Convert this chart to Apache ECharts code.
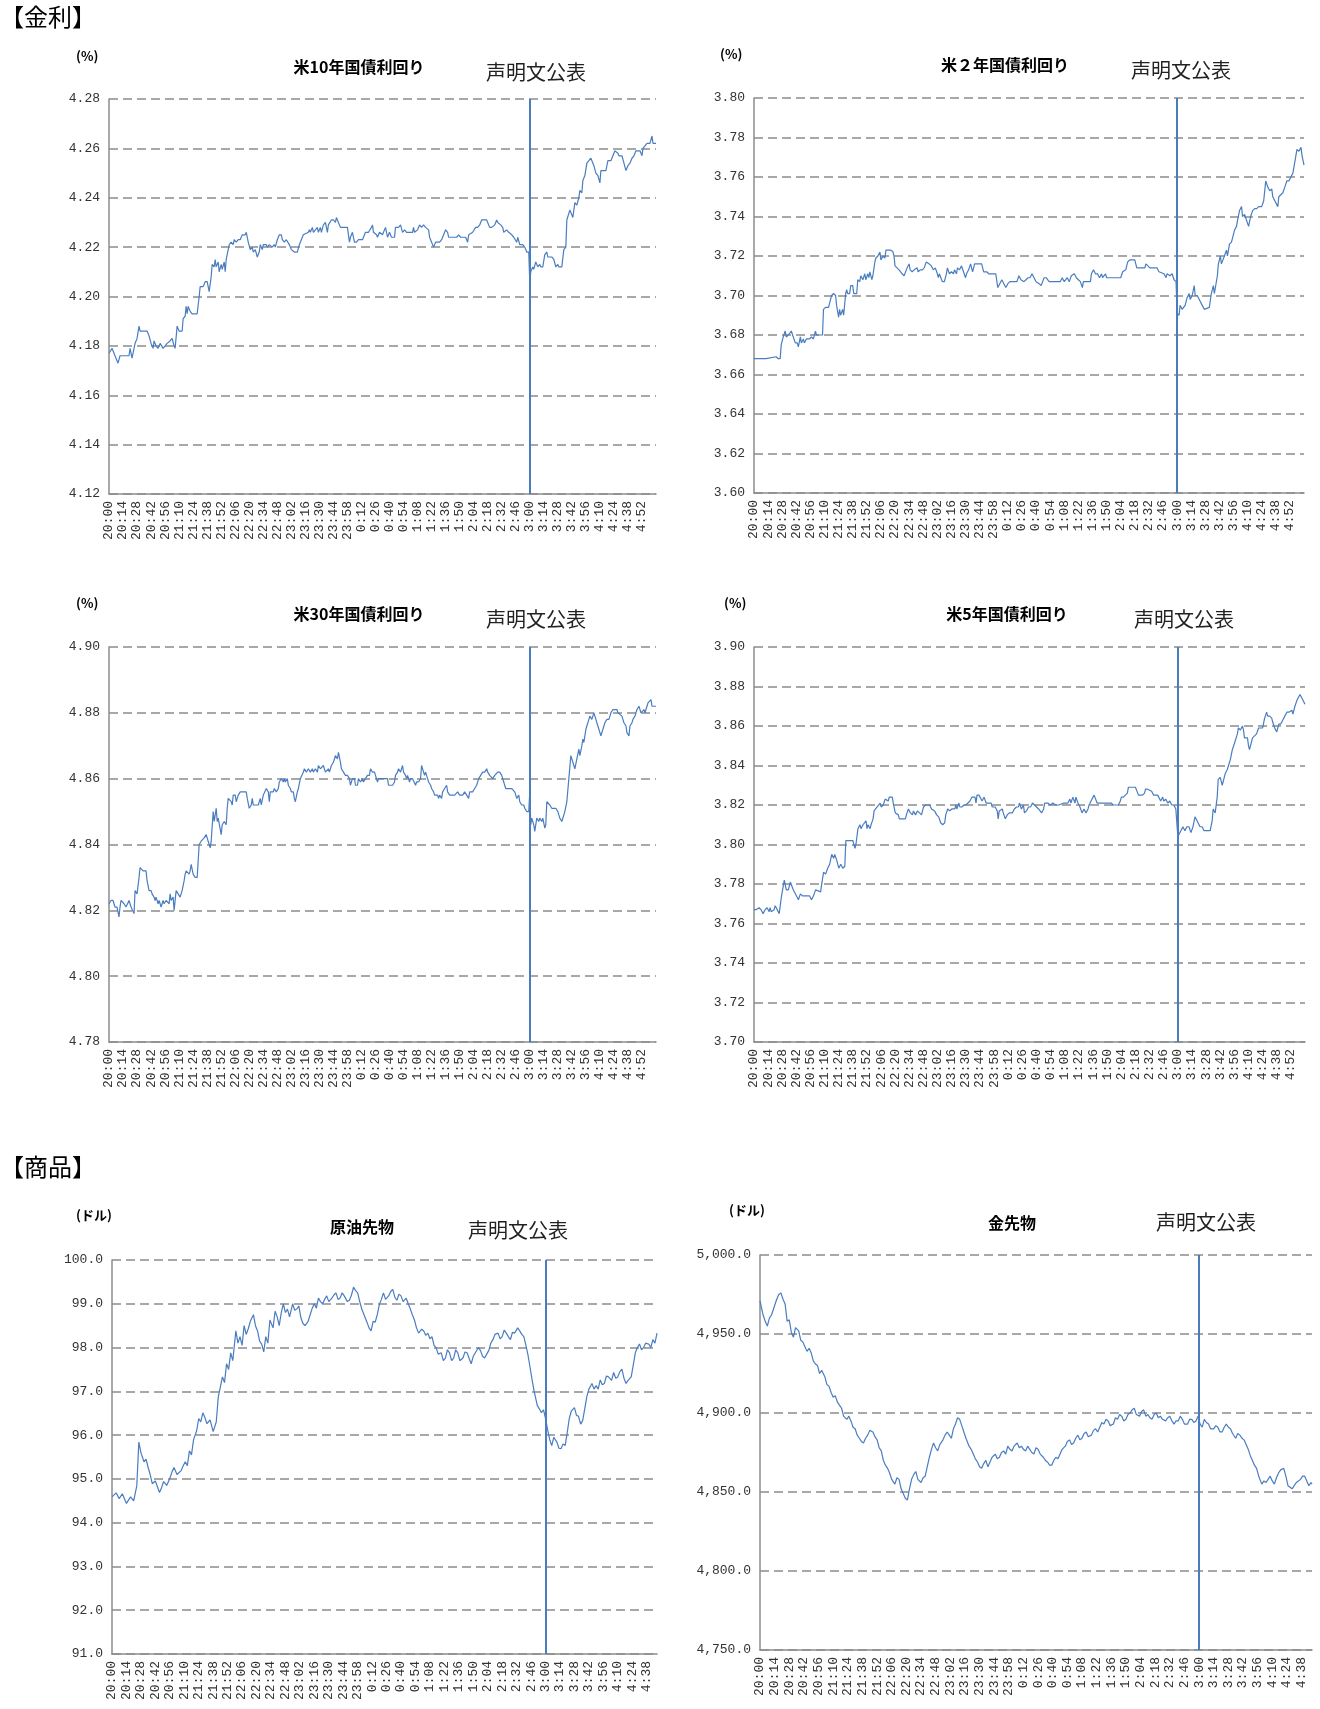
<!DOCTYPE html>
<html><head><meta charset="utf-8">
<script src="https://cdn.jsdelivr.net/npm/echarts@6/dist/echarts.min.js"></script>
<style>html,body{margin:0;padding:0;background:#fff}#c{width:1320px;height:1709px}</style>
</head><body><div id="c"></div>
<script>
// minutes after 20:00 (NY time), value
const tenY = [[0,4.177],[1,4.177],[3,4.179],[5,4.177],[7,4.175],[9,4.173],[11,4.176],[20,4.176],[21,4.179],[23,4.175],[24,4.175],[26,4.181],[28,4.183],[30,4.188],[31,4.186],[38,4.186],[40,4.184],[42,4.181],[44,4.179],[45,4.182],[47,4.180],[49,4.179],[51,4.181],[54,4.179],[56,4.180],[58,4.181],[59,4.181],[61,4.182],[63,4.183],[65,4.180],[66,4.179],[68,4.188],[70,4.186],[73,4.186],[74,4.191],[76,4.192],[77,4.196],[78,4.193],[79,4.196],[81,4.194],[83,4.193],[88,4.193],[90,4.200],[91,4.204],[94,4.204],[96,4.206],[98,4.206],[99,4.204],[100,4.202],[102,4.208],[103,4.213],[105,4.212],[106,4.215],[107,4.212],[109,4.214],[110,4.210],[112,4.213],[113,4.211],[115,4.214],[116,4.210],[117,4.215],[119,4.219],[120,4.221],[122,4.222],[124,4.221],[125,4.223],[127,4.222],[129,4.223],[131,4.223],[133,4.225],[136,4.225],[137,4.226],[139,4.222],[141,4.219],[143,4.220],[144,4.218],[146,4.219],[148,4.216],[150,4.218],[151,4.221],[153,4.219],[154,4.221],[157,4.221],[158,4.220],[160,4.221],[163,4.220],[165,4.221],[166,4.220],[168,4.223],[170,4.225],[172,4.225],[173,4.223],[175,4.222],[177,4.223],[180,4.221],[182,4.219],[185,4.218],[188,4.218],[190,4.221],[192,4.223],[194,4.225],[199,4.226],[200,4.227],[201,4.226],[203,4.228],[204,4.226],[206,4.227],[208,4.228],[209,4.226],[211,4.228],[212,4.226],[214,4.229],[216,4.230],[218,4.226],[219,4.229],[222,4.231],[224,4.231],[226,4.230],[227,4.232],[229,4.230],[231,4.228],[238,4.228],[240,4.222],[241,4.224],[243,4.226],[245,4.222],[247,4.222],[249,4.223],[253,4.223],[256,4.226],[259,4.226],[262,4.228],[263,4.229],[264,4.226],[267,4.225],[268,4.224],[270,4.226],[273,4.225],[276,4.228],[278,4.224],[280,4.226],[282,4.224],[285,4.224],[286,4.228],[289,4.228],[291,4.229],[293,4.226],[295,4.227],[297,4.226],[303,4.226],[304,4.228],[305,4.226],[308,4.227],[310,4.229],[312,4.228],[314,4.229],[316,4.228],[319,4.227],[320,4.224],[322,4.222],[324,4.220],[326,4.222],[330,4.222],[332,4.223],[334,4.225],[336,4.227],[338,4.226],[339,4.224],[347,4.224],[349,4.225],[351,4.224],[356,4.224],[358,4.222],[359,4.225],[363,4.226],[366,4.228],[368,4.228],[370,4.229],[372,4.231],[377,4.231],[378,4.230],[380,4.228],[382,4.228],[385,4.229],[387,4.231],[388,4.230],[391,4.229],[393,4.228],[394,4.226],[397,4.227],[399,4.226],[402,4.225],[404,4.224],[407,4.222],[408,4.224],[410,4.221],[413,4.221],[415,4.220],[417,4.218],[419,4.218],[420,4.206],[421,4.210],[423,4.212],[424,4.211],[426,4.214],[428,4.212],[430,4.213],[431,4.212],[433,4.212],[435,4.217],[437,4.218],[438,4.216],[440,4.216],[442,4.216],[444,4.215],[446,4.212],[448,4.213],[449,4.212],[452,4.212],[454,4.219],[456,4.220],[457,4.231],[460,4.235],[462,4.233],[463,4.232],[465,4.238],[467,4.237],[469,4.240],[470,4.243],[472,4.242],[473,4.247],[475,4.249],[477,4.254],[479,4.255],[481,4.256],[482,4.256],[484,4.253],[486,4.250],[488,4.249],[490,4.246],[491,4.251],[496,4.251],[498,4.255],[501,4.255],[503,4.257],[505,4.259],[508,4.258],[509,4.257],[512,4.257],[514,4.254],[516,4.251],[518,4.253],[520,4.254],[522,4.256],[524,4.257],[526,4.259],[530,4.259],[532,4.257],[533,4.260],[535,4.261],[537,4.262],[540,4.262],[542,4.265],[543,4.262],[546,4.262]];

const twoY = [[0,3.668],[4,3.668],[5,3.669],[7,3.668],[12,3.668],[13,3.669],[22,3.669],[24,3.668],[26,3.668],[27,3.675],[29,3.679],[31,3.682],[32,3.679],[34,3.680],[35,3.679],[37,3.682],[38,3.681],[39,3.679],[41,3.676],[43,3.676],[44,3.674],[46,3.679],[47,3.676],[49,3.678],[50,3.676],[52,3.678],[55,3.678],[57,3.679],[59,3.678],[61,3.682],[62,3.680],[64,3.680],[68,3.680],[69,3.693],[71,3.694],[74,3.694],[75,3.696],[77,3.700],[79,3.701],[81,3.700],[82,3.695],[84,3.689],[85,3.693],[86,3.690],[88,3.693],[89,3.690],[91,3.701],[92,3.703],[93,3.701],[95,3.701],[96,3.705],[98,3.705],[99,3.701],[102,3.701],[103,3.708],[105,3.707],[106,3.710],[108,3.708],[110,3.711],[111,3.708],[113,3.711],[114,3.709],[115,3.712],[117,3.708],[118,3.710],[120,3.717],[121,3.719],[123,3.720],[125,3.722],[126,3.718],[128,3.720],[130,3.719],[131,3.723],[136,3.723],[138,3.722],[139,3.720],[140,3.715],[142,3.714],[144,3.713],[145,3.712],[147,3.711],[149,3.710],[150,3.711],[152,3.714],[154,3.716],[155,3.713],[157,3.712],[159,3.713],[160,3.712],[162,3.714],[163,3.712],[165,3.713],[167,3.713],[169,3.714],[171,3.717],[172,3.718],[174,3.716],[176,3.715],[178,3.713],[180,3.714],[182,3.711],[183,3.709],[184,3.711],[187,3.707],[189,3.707],[191,3.711],[192,3.714],[194,3.711],[196,3.712],[198,3.711],[199,3.713],[201,3.711],[202,3.714],[204,3.713],[206,3.715],[208,3.712],[210,3.709],[211,3.711],[213,3.713],[215,3.716],[217,3.712],[219,3.716],[226,3.716],[228,3.712],[229,3.713],[231,3.712],[233,3.711],[240,3.711],[242,3.704],[244,3.706],[246,3.708],[248,3.706],[250,3.704],[252,3.706],[254,3.707],[261,3.707],[263,3.710],[264,3.711],[265,3.708],[268,3.707],[270,3.708],[272,3.709],[274,3.709],[276,3.711],[278,3.709],[280,3.707],[283,3.706],[285,3.705],[286,3.706],[288,3.709],[290,3.709],[293,3.707],[304,3.707],[306,3.709],[308,3.707],[311,3.709],[313,3.707],[315,3.710],[318,3.711],[320,3.709],[322,3.708],[324,3.707],[326,3.704],[327,3.707],[334,3.707],[335,3.711],[337,3.713],[339,3.711],[341,3.711],[343,3.709],[345,3.711],[346,3.709],[349,3.711],[350,3.709],[361,3.709],[364,3.709],[366,3.712],[369,3.713],[371,3.717],[373,3.718],[378,3.718],[380,3.714],[388,3.714],[389,3.716],[391,3.715],[393,3.714],[400,3.714],[402,3.712],[407,3.711],[409,3.709],[410,3.711],[413,3.710],[415,3.711],[417,3.708],[419,3.707],[420,3.691],[422,3.690],[423,3.695],[425,3.693],[428,3.695],[430,3.699],[432,3.701],[433,3.698],[435,3.700],[437,3.705],[438,3.700],[440,3.700],[442,3.698],[445,3.695],[447,3.693],[448,3.694],[452,3.694],[454,3.701],[456,3.705],[457,3.701],[460,3.710],[461,3.716],[463,3.720],[464,3.716],[467,3.720],[469,3.723],[470,3.720],[472,3.726],[474,3.727],[477,3.733],[479,3.735],[480,3.738],[482,3.743],[484,3.745],[485,3.740],[487,3.741],[489,3.738],[491,3.735],[493,3.740],[495,3.743],[497,3.744],[499,3.744],[501,3.745],[504,3.745],[506,3.748],[508,3.758],[510,3.755],[512,3.753],[514,3.754],[515,3.750],[517,3.748],[520,3.745],[521,3.750],[523,3.751],[525,3.752],[527,3.755],[529,3.758],[531,3.758],[533,3.760],[535,3.762],[536,3.762],[538,3.771],[539,3.774],[541,3.773],[543,3.775],[544,3.771],[546,3.766]];

const thirtyY = [[0,4.822],[2,4.823],[4,4.823],[6,4.821],[8,4.821],[10,4.818],[11,4.821],[12,4.823],[15,4.822],[17,4.821],[18,4.821],[20,4.823],[21,4.822],[22,4.821],[25,4.819],[26,4.826],[28,4.825],[30,4.830],[31,4.833],[34,4.832],[37,4.832],[38,4.829],[40,4.826],[42,4.826],[43,4.825],[45,4.824],[46,4.823],[47,4.824],[49,4.822],[50,4.823],[52,4.821],[54,4.823],[55,4.822],[57,4.823],[60,4.822],[61,4.825],[62,4.823],[64,4.824],[65,4.820],[67,4.826],[69,4.825],[71,4.824],[73,4.826],[75,4.829],[76,4.831],[77,4.832],[80,4.831],[81,4.832],[82,4.834],[84,4.831],[86,4.830],[88,4.830],[90,4.840],[92,4.841],[95,4.842],[97,4.843],[99,4.841],[101,4.839],[102,4.841],[104,4.850],[105,4.847],[107,4.851],[108,4.847],[109,4.848],[112,4.843],[113,4.846],[115,4.847],[117,4.846],[118,4.851],[119,4.854],[122,4.853],[123,4.852],[124,4.855],[126,4.855],[127,4.853],[129,4.855],[131,4.856],[133,4.856],[137,4.856],[138,4.854],[140,4.851],[142,4.852],[143,4.854],[144,4.852],[147,4.852],[149,4.852],[151,4.854],[152,4.852],[154,4.855],[155,4.855],[157,4.857],[159,4.856],[160,4.853],[161,4.856],[164,4.856],[165,4.857],[167,4.856],[169,4.857],[170,4.859],[172,4.860],[174,4.859],[175,4.860],[176,4.859],[178,4.860],[179,4.858],[181,4.857],[182,4.856],[184,4.856],[185,4.854],[186,4.853],[188,4.856],[189,4.857],[191,4.860],[192,4.860],[194,4.862],[195,4.863],[197,4.862],[199,4.863],[201,4.862],[203,4.863],[204,4.862],[206,4.863],[208,4.862],[209,4.864],[211,4.863],[212,4.863],[214,4.864],[216,4.862],[217,4.862],[219,4.863],[220,4.862],[222,4.864],[224,4.865],[225,4.865],[226,4.867],[228,4.866],[229,4.868],[231,4.865],[232,4.863],[234,4.862],[236,4.861],[238,4.861],[240,4.860],[241,4.858],[243,4.860],[245,4.860],[246,4.858],[248,4.858],[249,4.860],[251,4.859],[253,4.860],[254,4.859],[256,4.860],[258,4.861],[260,4.861],[261,4.863],[263,4.862],[265,4.862],[266,4.861],[268,4.859],[269,4.860],[272,4.860],[274,4.860],[276,4.860],[278,4.860],[279,4.858],[283,4.858],[285,4.859],[286,4.861],[288,4.862],[289,4.863],[291,4.862],[293,4.864],[294,4.862],[296,4.861],[297,4.860],[298,4.861],[300,4.859],[301,4.860],[303,4.860],[304,4.860],[306,4.858],[307,4.859],[309,4.859],[311,4.860],[312,4.864],[313,4.864],[315,4.861],[316,4.862],[318,4.860],[319,4.859],[321,4.858],[322,4.857],[324,4.856],[325,4.855],[328,4.855],[329,4.854],[330,4.855],[332,4.854],[333,4.856],[335,4.857],[337,4.858],[338,4.856],[340,4.855],[342,4.855],[343,4.855],[345,4.855],[348,4.856],[350,4.855],[351,4.855],[353,4.855],[355,4.856],[357,4.855],[359,4.854],[360,4.856],[363,4.856],[365,4.857],[367,4.858],[369,4.860],[371,4.861],[373,4.862],[375,4.862],[377,4.863],[378,4.862],[380,4.861],[381,4.861],[383,4.860],[385,4.861],[386,4.861],[388,4.862],[390,4.862],[392,4.861],[393,4.860],[395,4.858],[396,4.857],[399,4.857],[402,4.857],[405,4.856],[407,4.854],[409,4.855],[410,4.853],[412,4.852],[414,4.852],[415,4.851],[417,4.850],[419,4.850],[420,4.856],[421,4.846],[422,4.848],[424,4.846],[425,4.844],[427,4.848],[429,4.847],[430,4.848],[432,4.847],[433,4.848],[435,4.845],[436,4.846],[437,4.853],[440,4.852],[442,4.851],[444,4.851],[446,4.851],[448,4.850],[450,4.848],[452,4.847],[453,4.847],[455,4.850],[457,4.853],[459,4.860],[461,4.867],[462,4.866],[464,4.864],[465,4.863],[467,4.866],[469,4.869],[470,4.867],[472,4.870],[473,4.872],[474,4.871],[476,4.875],[477,4.876],[479,4.878],[480,4.879],[482,4.878],[484,4.880],[485,4.879],[487,4.877],[489,4.875],[491,4.873],[493,4.875],[495,4.877],[497,4.878],[499,4.878],[501,4.880],[503,4.881],[504,4.881],[507,4.881],[508,4.880],[509,4.880],[512,4.879],[513,4.878],[514,4.877],[516,4.876],[517,4.874],[519,4.873],[520,4.876],[522,4.877],[523,4.878],[525,4.879],[527,4.881],[529,4.882],[531,4.880],[532,4.880],[534,4.881],[535,4.880],[537,4.882],[538,4.883],[539,4.883],[541,4.884],[542,4.882],[544,4.882],[546,4.882]];

const fiveY = [[0,3.767],[2,3.767],[5,3.768],[7,3.767],[9,3.765],[11,3.767],[13,3.768],[15,3.766],[16,3.768],[17,3.766],[20,3.767],[21,3.769],[22,3.768],[25,3.765],[27,3.773],[28,3.776],[30,3.782],[32,3.777],[34,3.777],[36,3.781],[37,3.780],[39,3.777],[42,3.774],[44,3.772],[46,3.775],[48,3.774],[52,3.774],[55,3.774],[57,3.772],[59,3.774],[61,3.777],[62,3.776],[66,3.776],[68,3.783],[69,3.786],[71,3.785],[73,3.788],[75,3.790],[77,3.795],[79,3.793],[80,3.795],[82,3.792],[84,3.788],[86,3.790],[88,3.788],[90,3.789],[91,3.802],[94,3.802],[98,3.802],[100,3.798],[101,3.800],[103,3.808],[105,3.810],[106,3.808],[108,3.810],[109,3.810],[111,3.812],[112,3.808],[113,3.810],[115,3.808],[116,3.810],[118,3.813],[119,3.817],[120,3.816],[122,3.819],[123,3.819],[125,3.821],[126,3.819],[128,3.820],[129,3.821],[130,3.823],[133,3.822],[134,3.824],[135,3.825],[137,3.824],[138,3.821],[140,3.816],[143,3.815],[144,3.813],[150,3.813],[151,3.815],[153,3.818],[155,3.816],[157,3.815],[158,3.817],[160,3.815],[162,3.817],[164,3.816],[166,3.815],[168,3.819],[170,3.820],[174,3.820],[176,3.818],[177,3.817],[179,3.817],[181,3.815],[183,3.814],[185,3.811],[187,3.810],[189,3.811],[190,3.815],[192,3.818],[194,3.817],[196,3.818],[197,3.819],[199,3.818],[200,3.820],[201,3.818],[203,3.821],[204,3.819],[206,3.819],[208,3.820],[210,3.820],[212,3.821],[214,3.822],[216,3.824],[219,3.824],[220,3.821],[221,3.825],[223,3.825],[224,3.824],[226,3.822],[228,3.824],[230,3.821],[231,3.821],[233,3.821],[235,3.821],[236,3.819],[239,3.819],[241,3.817],[242,3.813],[243,3.817],[246,3.818],[247,3.816],[249,3.813],[251,3.815],[253,3.816],[256,3.816],[258,3.818],[260,3.819],[262,3.819],[263,3.821],[265,3.818],[267,3.820],[268,3.816],[270,3.817],[272,3.819],[274,3.819],[276,3.821],[278,3.820],[280,3.819],[282,3.818],[283,3.817],[285,3.816],[287,3.818],[288,3.821],[291,3.821],[294,3.820],[296,3.821],[299,3.820],[302,3.820],[307,3.821],[311,3.821],[313,3.823],[314,3.821],[316,3.824],[318,3.821],[319,3.824],[321,3.821],[323,3.819],[325,3.816],[327,3.818],[329,3.816],[331,3.818],[332,3.820],[334,3.822],[337,3.825],[338,3.824],[340,3.821],[343,3.821],[350,3.821],[354,3.821],[356,3.820],[361,3.820],[363,3.822],[364,3.824],[366,3.824],[368,3.825],[370,3.826],[371,3.829],[378,3.829],[381,3.825],[385,3.825],[387,3.826],[388,3.828],[390,3.828],[391,3.827],[394,3.827],[396,3.825],[400,3.825],[401,3.824],[403,3.822],[405,3.824],[406,3.822],[408,3.823],[410,3.821],[412,3.822],[414,3.820],[416,3.820],[418,3.818],[419,3.819],[420,3.804],[423,3.807],[425,3.809],[427,3.807],[429,3.809],[431,3.809],[433,3.806],[435,3.809],[437,3.814],[439,3.812],[440,3.812],[442,3.809],[444,3.809],[446,3.807],[448,3.807],[452,3.807],[454,3.812],[455,3.818],[457,3.816],[459,3.824],[460,3.833],[462,3.834],[464,3.830],[465,3.829],[467,3.836],[469,3.838],[470,3.837],[472,3.843],[473,3.843],[474,3.848],[476,3.851],[477,3.852],[479,3.856],[480,3.859],[482,3.858],[484,3.860],[485,3.858],[486,3.854],[489,3.854],[490,3.850],[491,3.848],[493,3.852],[494,3.854],[496,3.855],[498,3.856],[500,3.859],[502,3.859],[504,3.859],[506,3.864],[508,3.867],[509,3.865],[511,3.865],[513,3.864],[514,3.862],[516,3.859],[518,3.857],[520,3.861],[522,3.861],[524,3.863],[526,3.865],[528,3.867],[530,3.867],[531,3.866],[533,3.868],[534,3.866],[536,3.870],[538,3.873],[539,3.873],[541,3.876],[543,3.874],[544,3.874],[546,3.871]];

const crude = [[0,94.59],[4,94.68],[7,94.55],[10,94.66],[14,94.44],[18,94.59],[21,94.50],[24,94.84],[26,95.84],[28,95.60],[31,95.39],[33,95.45],[35,95.26],[37,95.10],[39,94.89],[42,94.95],[46,94.69],[48,94.80],[50,94.94],[53,94.85],[56,95.01],[58,95.15],[60,95.26],[63,95.10],[67,95.19],[69,95.30],[71,95.39],[73,95.30],[75,95.64],[77,95.55],[79,95.89],[82,96.10],[84,96.38],[86,96.30],[88,96.51],[90,96.40],[92,96.26],[95,96.35],[98,96.08],[101,96.30],[103,96.88],[105,97.10],[107,97.33],[109,97.20],[111,97.63],[113,97.50],[115,97.88],[117,97.70],[120,98.38],[122,98.10],[124,98.25],[126,98.05],[128,98.50],[130,98.30],[132,98.43],[134,98.60],[137,98.75],[139,98.50],[141,98.38],[143,98.15],[145,98.08],[147,97.90],[149,98.25],[151,98.10],[153,98.63],[156,98.45],[158,98.83],[160,98.70],[162,98.50],[164,98.80],[166,99.00],[168,98.80],[170,98.88],[172,98.70],[175,99.00],[177,98.85],[179,98.88],[181,98.95],[183,98.68],[185,98.55],[187,98.50],[190,98.60],[192,98.75],[194,98.90],[196,99.00],[198,98.90],[200,99.13],[202,99.05],[204,99.00],[206,99.10],[208,99.18],[210,99.05],[213,99.13],[215,99.20],[217,99.25],[219,99.10],[221,99.13],[223,99.25],[225,99.18],[228,99.05],[230,99.08],[232,99.20],[234,99.38],[236,99.30],[238,99.25],[240,99.05],[242,98.88],[245,98.70],[247,98.58],[249,98.45],[251,98.38],[253,98.60],[255,98.58],[257,98.75],[259,98.98],[261,99.10],[263,99.25],[265,99.10],[268,99.18],[270,99.28],[272,99.33],[274,99.15],[276,99.08],[278,99.22],[280,99.18],[282,99.05],[285,99.13],[287,99.00],[289,98.88],[291,98.75],[293,98.63],[295,98.45],[297,98.33],[300,98.42],[302,98.38],[304,98.28],[306,98.33],[308,98.20],[310,98.25],[312,98.05],[314,98.00],[316,97.85],[319,97.88],[321,97.70],[323,97.76],[325,97.95],[327,97.88],[329,97.70],[331,97.76],[333,97.95],[335,97.88],[337,97.70],[340,97.76],[342,97.90],[344,97.88],[346,97.75],[348,97.63],[350,97.80],[352,97.88],[355,98.00],[357,97.93],[359,97.80],[361,97.76],[363,97.85],[365,97.93],[367,98.10],[369,98.18],[371,98.30],[374,98.33],[376,98.20],[378,98.25],[380,98.40],[382,98.33],[384,98.25],[386,98.18],[388,98.35],[390,98.33],[393,98.45],[395,98.38],[397,98.30],[399,98.25],[401,98.05],[403,97.83],[405,97.55],[407,97.26],[409,97.00],[412,96.68],[414,96.60],[416,96.51],[418,96.58],[420,96.38],[422,96.13],[424,95.90],[426,95.76],[428,95.95],[431,95.84],[433,95.70],[435,95.69],[437,95.80],[439,95.76],[441,96.05],[443,96.38],[445,96.55],[448,96.63],[450,96.45],[452,96.43],[454,96.25],[456,96.33],[458,96.60],[460,96.88],[462,97.05],[465,97.18],[467,97.05],[469,97.13],[471,97.05],[473,97.26],[475,97.15],[477,97.18],[479,97.35],[481,97.33],[484,97.25],[486,97.43],[488,97.30],[490,97.33],[492,97.45],[494,97.51],[496,97.30],[498,97.18],[500,97.25],[503,97.33],[505,97.60],[507,97.88],[509,98.00],[511,98.08],[513,97.95],[515,98.00],[517,98.10],[520,98.08],[522,98.00],[524,98.18],[526,98.10],[528,98.33]];

const gold = [[0,4971],[3,4962],[5,4958],[7,4955],[9,4960],[11,4962],[14,4968],[16,4972],[18,4975],[20,4976],[22,4972],[24,4969],[26,4958],[28,4959],[30,4951],[32,4948],[34,4954],[37,4952],[39,4946],[41,4945],[43,4942],[45,4939],[47,4941],[49,4938],[51,4933],[53,4931],[55,4930],[57,4925],[59,4927],[62,4923],[64,4918],[66,4917],[68,4913],[70,4910],[72,4911],[74,4907],[76,4905],[78,4903],[80,4898],[83,4896],[85,4898],[87,4895],[89,4891],[91,4890],[93,4886],[95,4884],[97,4882],[99,4881],[101,4884],[103,4886],[105,4889],[108,4888],[110,4885],[112,4883],[114,4878],[116,4876],[118,4870],[120,4867],[122,4865],[124,4862],[126,4858],[129,4855],[131,4859],[133,4858],[135,4852],[137,4849],[139,4846],[141,4845],[143,4852],[145,4858],[147,4861],[149,4863],[151,4858],[154,4856],[156,4859],[158,4860],[160,4866],[162,4872],[164,4877],[166,4881],[168,4878],[170,4876],[172,4880],[175,4883],[177,4886],[179,4888],[181,4886],[183,4884],[185,4890],[187,4893],[189,4897],[191,4896],[193,4892],[195,4888],[197,4884],[200,4879],[202,4877],[204,4874],[206,4871],[208,4869],[210,4866],[212,4865],[214,4868],[216,4870],[218,4866],[220,4869],[222,4872],[225,4874],[227,4871],[229,4872],[231,4875],[233,4876],[235,4874],[237,4879],[239,4877],[241,4876],[243,4879],[246,4881],[248,4878],[250,4879],[252,4877],[254,4876],[256,4879],[258,4877],[260,4875],[262,4874],[264,4878],[266,4877],[268,4874],[271,4872],[273,4870],[275,4869],[277,4867],[279,4867],[281,4870],[283,4872],[285,4871],[287,4874],[289,4877],[292,4879],[294,4882],[296,4883],[298,4880],[300,4881],[302,4884],[304,4886],[306,4883],[308,4884],[310,4887],[312,4888],[314,4885],[317,4886],[319,4889],[321,4890],[323,4888],[325,4891],[327,4894],[329,4893],[331,4896],[333,4895],[335,4892],[338,4893],[340,4897],[342,4896],[344,4899],[346,4898],[348,4895],[350,4896],[352,4899],[354,4900],[356,4902],[358,4903],[360,4899],[363,4898],[365,4901],[367,4902],[369,4898],[371,4899],[373,4897],[375,4896],[377,4899],[379,4900],[381,4897],[383,4898],[385,4896],[388,4895],[390,4897],[392,4898],[394,4895],[396,4893],[398,4895],[400,4895],[402,4898],[404,4896],[406,4893],[409,4893],[411,4896],[413,4896],[415,4894],[417,4895],[419,4898],[421,4893],[423,4891],[425,4896],[427,4894],[429,4893],[431,4890],[434,4890],[436,4892],[438,4891],[440,4888],[442,4888],[444,4891],[446,4893],[448,4891],[450,4890],[452,4887],[455,4884],[457,4887],[459,4886],[461,4884],[463,4883],[465,4880],[467,4877],[469,4873],[471,4870],[473,4867],[475,4865],[477,4860],[480,4855],[482,4857],[484,4856],[486,4858],[488,4860],[490,4857],[492,4855],[494,4859],[496,4862],[498,4864],[501,4865],[503,4860],[505,4854],[507,4853],[509,4852],[511,4854],[513,4856],[515,4857],[517,4858],[519,4860],[521,4860],[523,4857],[525,4854],[527,4856],[528,4855]];

const eventMinute = 420;      // 3:00 声明文公表
const labelStepMinutes = 14;
const startHour = 20;

const LINE = '#4A7DC0';
const GRIDC = '#8C8C8C';
const TICKFONT = '"Liberation Mono", monospace';
const JP = '"Noto Sans CJK JP", sans-serif';

function timeLabel(v) {
  const t = startHour * 60 + Math.round(v);
  const h = Math.floor(t / 60) % 24;
  const m = t % 60;
  return h + ':' + (m < 10 ? '0' : '') + m;
}
function commaFmt(v) {
  const s = v.toFixed(1).split('.');
  return s[0].replace(/\B(?=(\d{3})+(?!\d))/g, ',') + '.' + s[1];
}

const panels = [
  {data: tenY, title: '米10年国債利回り', unit: '(%)', ymin: 4.12, ymax: 4.28, yint: 0.02, xmax: 546, fmt: v => v.toFixed(2),
   grid: {left: 109, top: 99, width: 547, height: 395}, titleXY: [359, 59], noteXY: [536, 62], unitXY: [76, 50]},
  {data: twoY, title: '米２年国債利回り', unit: '(%)', ymin: 3.60, ymax: 3.80, yint: 0.02, xmax: 546, fmt: v => v.toFixed(2),
   grid: {left: 754, top: 98, width: 550, height: 395}, titleXY: [1005, 57], noteXY: [1181, 60], unitXY: [720, 48]},
  {data: thirtyY, title: '米30年国債利回り', unit: '(%)', ymin: 4.78, ymax: 4.90, yint: 0.02, xmax: 546, fmt: v => v.toFixed(2),
   grid: {left: 109, top: 647, width: 547, height: 395}, titleXY: [359, 606], noteXY: [536, 609], unitXY: [76, 597]},
  {data: fiveY, title: '米5年国債利回り', unit: '(%)', ymin: 3.70, ymax: 3.90, yint: 0.02, xmax: 546, fmt: v => v.toFixed(2),
   grid: {left: 754, top: 647, width: 551, height: 395}, titleXY: [1007, 606], noteXY: [1184, 609], unitXY: [724, 597]},
  {data: crude, title: '原油先物', unit: '(ドル)', ymin: 91, ymax: 100, yint: 1, xmax: 528, fmt: v => v.toFixed(1),
   grid: {left: 112, top: 1260, width: 545, height: 394}, titleXY: [362, 1219], noteXY: [518, 1220], unitXY: [76, 1209]},
  {data: gold, title: '金先物', unit: '(ドル)', ymin: 4750, ymax: 5000, yint: 50, xmax: 528, fmt: commaFmt,
   grid: {left: 760, top: 1255, width: 552, height: 395}, titleXY: [1012, 1215], noteXY: [1206, 1212], unitXY: [729, 1204]}
];

const grids = [], xAxes = [], yAxes = [], series = [], graphics = [];

graphics.push({type: 'text', x: 0, y: 5, style: {text: '【金利】', fontFamily: JP, fontSize: 24, fill: '#000'}});
graphics.push({type: 'text', x: 0, y: 1155, style: {text: '【商品】', fontFamily: JP, fontSize: 24, fill: '#000'}});

panels.forEach((p, i) => {
  grids.push(Object.assign({containLabel: false}, p.grid));
  xAxes.push({
    type: 'value', gridIndex: i, min: 0, max: p.xmax, interval: labelStepMinutes,
    axisLine: {show: true, onZero: false, lineStyle: {color: GRIDC, width: 1.5}},
    axisTick: {show: false}, splitLine: {show: false},
    axisLabel: {rotate: 90, margin: 7, fontFamily: TICKFONT, fontSize: 13, color: '#333',
      showMaxLabel: false, showMinLabel: true, formatter: timeLabel}
  });
  yAxes.push({
    type: 'value', gridIndex: i, min: p.ymin, max: p.ymax, interval: p.yint,
    axisLine: {show: true, lineStyle: {color: GRIDC, width: 1.5}},
    axisTick: {show: false},
    splitLine: {show: true, lineStyle: {color: GRIDC, width: 1.5, type: [9, 5]}},
    axisLabel: {margin: 9, fontFamily: TICKFONT, fontSize: 13, color: '#333', formatter: p.fmt}
  });
  series.push({
    type: 'line', xAxisIndex: i, yAxisIndex: i, data: p.data,
    showSymbol: false, symbol: 'none', animation: false,
    lineStyle: {color: LINE, width: 1.2},
    markLine: {
      silent: true, symbol: ['none', 'none'], animation: false,
      label: {show: false},
      lineStyle: {color: LINE, width: 2, type: 'solid'},
      data: [{xAxis: eventMinute}]
    }
  });
  graphics.push({type: 'text', x: p.titleXY[0], y: p.titleXY[1],
    style: {text: p.title, fontFamily: JP, fontSize: 16, fontWeight: 'bold', fill: '#000', align: 'center', verticalAlign: 'top'}});
  graphics.push({type: 'text', x: p.noteXY[0], y: p.noteXY[1],
    style: {text: '声明文公表', fontFamily: JP, fontSize: 20, fontWeight: 'normal', fill: '#222', align: 'center', verticalAlign: 'top'}});
  graphics.push({type: 'text', x: p.unitXY[0], y: p.unitXY[1],
    style: {text: p.unit, fontFamily: JP, fontSize: 13, fontWeight: 'bold', fill: '#000', align: 'left', verticalAlign: 'top'}});
});

const chart = echarts.init(document.getElementById('c'), null, {renderer: 'canvas'});
chart.setOption({
  animation: false,
  backgroundColor: '#fff',
  grid: grids, xAxis: xAxes, yAxis: yAxes, series: series,
  graphic: graphics
});
</script>
</body></html>
